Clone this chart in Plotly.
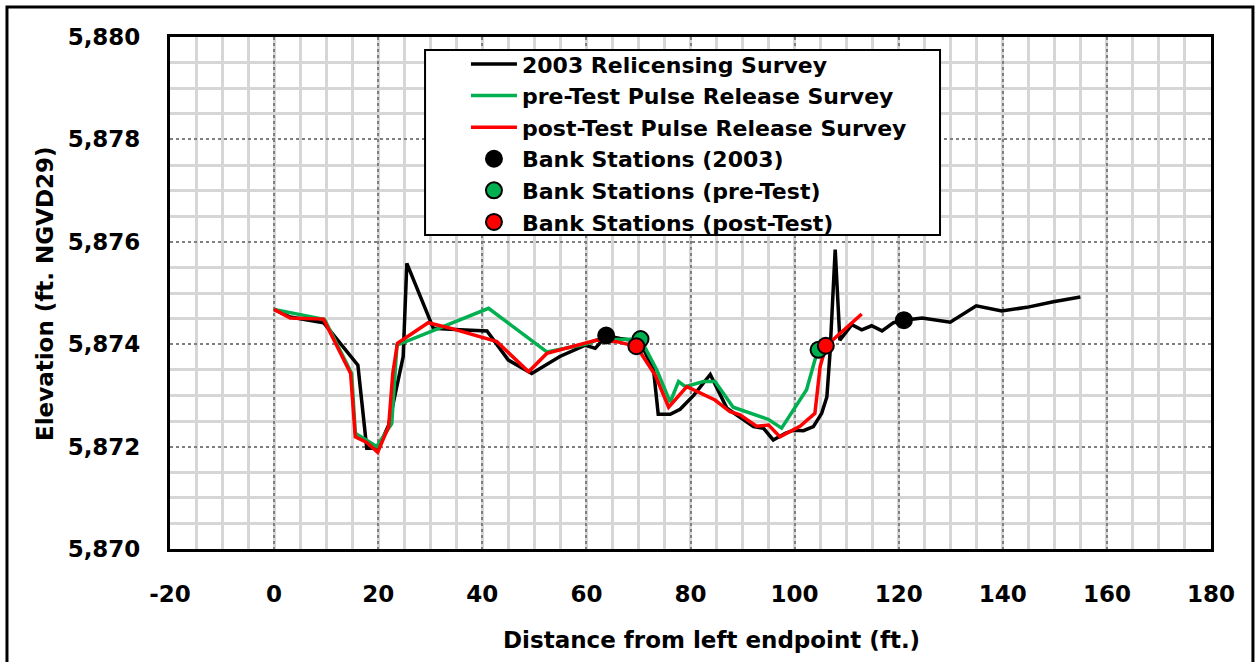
import plotly.graph_objects as go

# Cross-section survey data: station (ft from left endpoint) and elevation (ft NGVD29)
survey_2003_x = [0, 3.1, 9.5, 16.1, 17.8, 20.0, 22.0, 24.8, 25.5, 30.6, 35.7, 40.9, 45.0,
                 49.5, 54.9, 59.8, 61.7, 63.8, 66.5, 70.3, 72.9, 73.8, 76.1, 78.0, 80.6,
                 83.8, 87.0, 89.5, 92.1, 94.0, 95.9, 98.2, 99.8, 101.7, 103.6, 105.2,
                 106.2, 106.8, 107.8, 108.7, 111.0, 112.9, 114.8, 116.8, 119.0, 121.0,
                 124.5, 129.9, 134.9, 139.8, 144.6, 149.7, 154.9]
survey_2003_y = [5874.68, 5874.53, 5874.42, 5873.59, 5871.97, 5871.97, 5872.42, 5873.76,
                 5875.58, 5874.31, 5874.28, 5874.26, 5873.69, 5873.43, 5873.76, 5873.98,
                 5873.92, 5874.16, 5874.11, 5874.05, 5873.50, 5872.63, 5872.63, 5872.73,
                 5873.00, 5873.41, 5872.75, 5872.58, 5872.39, 5872.36, 5872.13, 5872.26,
                 5872.32, 5872.31, 5872.39, 5872.65, 5872.97, 5873.82, 5875.85, 5874.08,
                 5874.38, 5874.28, 5874.36, 5874.26, 5874.42, 5874.47, 5874.51, 5874.43,
                 5874.75, 5874.65, 5874.72, 5874.83, 5874.92]

pre_test_x = [0, 9.7, 14.9, 15.6, 19.7, 22.6, 23.6, 41.2, 52.4, 59.8, 62.0, 66.8, 70.4,
              73.5, 76.1, 77.7, 79.0, 82.5, 84.7, 88.2, 95.0, 97.5, 102.3, 103.9, 104.6]
pre_test_y = [5874.68, 5874.48, 5873.43, 5872.26, 5872.00, 5872.45, 5873.98, 5874.70,
              5873.85, 5874.00, 5874.08, 5874.10, 5874.10, 5873.50, 5872.87, 5873.27,
              5873.17, 5873.27, 5873.27, 5872.77, 5872.53, 5872.36, 5873.11, 5873.69,
              5873.89]

post_test_x = [0, 3.1, 9.5, 14.7, 15.6, 17.8, 19.9, 22.0, 22.8, 23.7, 29.6, 34.0, 42.8,
               48.9, 52.4, 62.0, 65.8, 69.6, 73.2, 75.8, 79.3, 84.7, 87.6, 89.5, 92.7,
               95.0, 97.2, 101.1, 103.9, 104.9, 106.0, 112.9]
post_test_y = [5874.68, 5874.51, 5874.49, 5873.43, 5872.19, 5872.08, 5871.89, 5872.39,
               5873.43, 5874.02, 5874.42, 5874.31, 5874.05, 5873.46, 5873.82, 5874.08,
               5874.05, 5873.96, 5873.40, 5872.77, 5873.17, 5872.91, 5872.68, 5872.62,
               5872.40, 5872.42, 5872.19, 5872.40, 5872.65, 5873.56, 5873.96, 5874.59]

bank_2003_x = [63.8, 121.0]
bank_2003_y = [5874.17, 5874.47]
bank_pre_x = [70.4, 104.6]
bank_pre_y = [5874.10, 5873.89]
bank_post_x = [69.6, 106.0]
bank_post_y = [5873.96, 5873.97]

x_tick_values = [-20, 0, 20, 40, 60, 80, 100, 120, 140, 160, 180]
x_tick_labels = ["-20", "0", "20", "40", "60", "80", "100", "120", "140", "160", "180"]

BLACK = "#000000"
GREEN = "#00b050"
RED = "#ff0000"
FONT = "DejaVu Sans"

fig = go.Figure()

line_series = [
    ("2003 Relicensing Survey", survey_2003_x, survey_2003_y, BLACK),
    ("pre-Test Pulse Release Survey", pre_test_x, pre_test_y, GREEN),
    ("post-Test Pulse Release Survey", post_test_x, post_test_y, RED),
]
for name, xs, ys, color in line_series:
    fig.add_trace(go.Scatter(x=xs, y=ys, mode="lines", name=name,
                             line=dict(color=color, width=3.5)))

marker_series = [
    ("Bank Stations (2003)", bank_2003_x, bank_2003_y, BLACK),
    ("Bank Stations (pre-Test)", bank_pre_x, bank_pre_y, GREEN),
    ("Bank Stations (post-Test)", bank_post_x, bank_post_y, RED),
]
for name, xs, ys, color in marker_series:
    fig.add_trace(go.Scatter(x=xs, y=ys, mode="markers", name=name,
                             marker=dict(color=color, size=16,
                                         line=dict(color=BLACK, width=2))))

axis_common = dict(
    showline=True, linecolor=BLACK, linewidth=3, mirror=True,
    showgrid=True, gridcolor="#7f7f7f", gridwidth=2, griddash="dot",
    zeroline=False, ticks="",
    tickfont=dict(family=FONT, size=23, color=BLACK, weight="bold"),
    ticklabelstandoff=22,
)
minor_grid = dict(showgrid=True, gridcolor="#d6d6d6", gridwidth=2.5, griddash="solid")

fig.update_xaxes(range=[-20, 180], tickvals=x_tick_values, ticktext=x_tick_labels,
                 minor=dict(dtick=5, **minor_grid), **axis_common)
fig.update_yaxes(range=[5870, 5880], dtick=2, tick0=5870, tickformat=",d",
                 minor=dict(dtick=0.5, **minor_grid), **axis_common)

title_font = dict(family=FONT, size=23, color=BLACK, weight="bold")
fig.add_annotation(text="Distance from left endpoint (ft.)", xref="paper", yref="paper",
                   x=0.5197, y=-0.1777, xanchor="center", yanchor="middle",
                   showarrow=False, font=title_font)
fig.add_annotation(text="Elevation (ft. NGVD29)", xref="paper", yref="paper",
                   x=-0.1201, y=0.5, xanchor="center", yanchor="middle", textangle=-90,
                   showarrow=False, font=title_font)

# legend frame (white box over the grid) and the outer chart border
fig.add_shape(type="rect", xref="paper", yref="paper", x0=0.245, x1=0.7397,
              y0=0.6133, y1=0.9746, line=dict(color=BLACK, width=2),
              fillcolor="white", layer="above")
fig.add_shape(type="rect", xref="paper", yref="paper", x0=-0.1566, x1=1.0403,
              y0=-0.25, y1=1.0586, line=dict(color=BLACK, width=3), layer="above")

fig.update_layout(
    width=1259, height=662,
    margin=dict(l=170, r=48, t=37, b=113),
    paper_bgcolor="white", plot_bgcolor="white",
    showlegend=True,
    legend=dict(x=0.2843, y=0.988, xanchor="left", yanchor="top",
                bgcolor="rgba(0,0,0,0)", borderwidth=0, itemwidth=46,
                font=dict(family=FONT, size=22, color=BLACK, weight="bold"),
                tracegroupgap=0),
)

fig.write_html("out.html")
